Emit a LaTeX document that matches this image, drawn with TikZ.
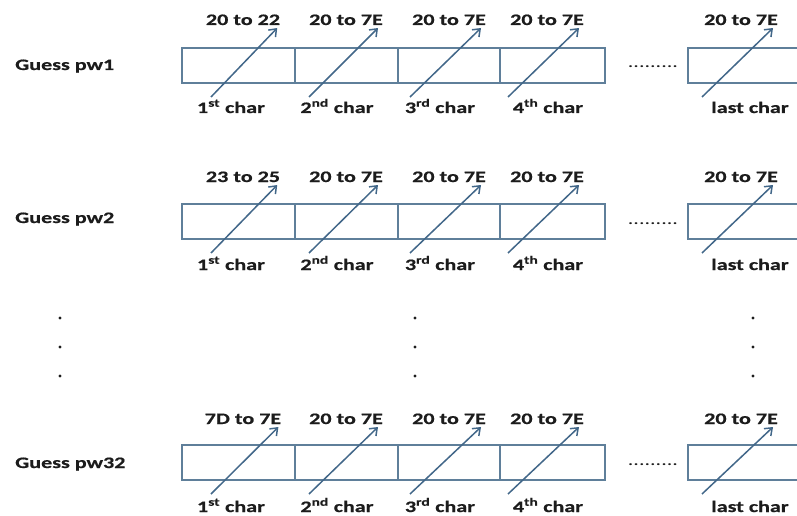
\documentclass[tikz,border=0pt]{standalone}
\usepackage{fontspec}
\setmainfont{Carlito}[FakeStretch=1.38, BoldFeatures={FakeBold=0.6}]
\usetikzlibrary{arrows.meta}
\definecolor{pwEdge}{HTML}{5F7F9A}
\definecolor{pwArrowCol}{HTML}{426789}
\definecolor{pwInk}{HTML}{1C1C1C}
\newcommand{\pwOrd}[2]{#1\textsuperscript{#2} char}

\begin{document}
\begin{tikzpicture}[x=1pt,y=-1pt,
  pwCell/.style={draw=pwEdge, line width=1.1pt, fill=white, minimum height=35pt, inner sep=0pt},
  pwText/.style={anchor=base, inner sep=0pt, font=\fontsize{16}{19}\selectfont\bfseries, text=pwInk},
  pwDots/.style={anchor=base, inner sep=0pt, font=\fontsize{16}{19}\selectfont, text=pwInk},
  pwArrow/.style={draw=pwArrowCol, line width=1.5pt, -{Straight Barb[length=6.5pt,width=10pt]}}]
\clip (0,0) rectangle (797,516);
% row 1
\node[pwText, anchor=base west] (g1) at (15,70) {Guess pw1};
\node[pwCell, minimum width=113pt] (c11) at (238.5,65.5) {};
\node[pwCell, minimum width=103pt] (c12) at (346.5,65.5) {};
\node[pwCell, minimum width=102pt] (c13) at (449,65.5) {};
\node[pwCell, minimum width=105pt] (c14) at (552.5,65.5) {};
\node[pwCell, minimum width=113pt] (c15) at (744.5,65.5) {};
\node[pwDots] (d1) at (653,68) {.........};
\node[pwText] (t11) at (243,25) {20 to 22};
\node[pwText] (t12) at (346,25) {20 to 7E};
\node[pwText] (t13) at (449,25) {20 to 7E};
\node[pwText] (t14) at (547,25) {20 to 7E};
\node[pwText] (t15) at (741,25) {20 to 7E};
\node[pwText] (b11) at (231,113) {\pwOrd{1}{st}};
\node[pwText] (b12) at (337,113) {\pwOrd{2}{nd}};
\node[pwText] (b13) at (440,113) {\pwOrd{3}{rd}};
\node[pwText] (b14) at (548,113) {\pwOrd{4}{th}};
\node[pwText] (b15) at (750,113) {last char};
\coordinate (a11) at (211,97);
\coordinate (a12) at (309,97);
\coordinate (a13) at (410,97);
\coordinate (a14) at (508,97);
\coordinate (a15) at (702,97);
\draw[pwArrow] (a11) -- ([shift={(-3,3)}]t11.base east);
\draw[pwArrow] (a12) -- ([shift={(-5,3)}]t12.base east);
\draw[pwArrow] (a13) -- ([shift={(-5,3)}]t13.base east);
\draw[pwArrow] (a14) -- ([shift={(-5,3)}]t14.base east);
\draw[pwArrow] (a15) -- ([shift={(-5,3)}]t15.base east);
% row 2
\node[pwText, anchor=base west] (g2) at (15,223) {Guess pw2};
\node[pwCell, minimum width=113pt] (c21) at (238.5,221.5) {};
\node[pwCell, minimum width=103pt] (c22) at (346.5,221.5) {};
\node[pwCell, minimum width=102pt] (c23) at (449,221.5) {};
\node[pwCell, minimum width=105pt] (c24) at (552.5,221.5) {};
\node[pwCell, minimum width=113pt] (c25) at (744.5,221.5) {};
\node[pwDots] (d2) at (653,224) {.........};
\node[pwText] (t21) at (243,182) {23 to 25};
\node[pwText] (t22) at (346,182) {20 to 7E};
\node[pwText] (t23) at (449,182) {20 to 7E};
\node[pwText] (t24) at (547,182) {20 to 7E};
\node[pwText] (t25) at (741,182) {20 to 7E};
\node[pwText] (b21) at (231,270) {\pwOrd{1}{st}};
\node[pwText] (b22) at (337,270) {\pwOrd{2}{nd}};
\node[pwText] (b23) at (440,270) {\pwOrd{3}{rd}};
\node[pwText] (b24) at (548,270) {\pwOrd{4}{th}};
\node[pwText] (b25) at (750,270) {last char};
\coordinate (a21) at (211,253);
\coordinate (a22) at (309,253);
\coordinate (a23) at (410,253);
\coordinate (a24) at (508,253);
\coordinate (a25) at (702,253);
\draw[pwArrow] (a21) -- ([shift={(-3,3)}]t21.base east);
\draw[pwArrow] (a22) -- ([shift={(-5,3)}]t22.base east);
\draw[pwArrow] (a23) -- ([shift={(-5,3)}]t23.base east);
\draw[pwArrow] (a24) -- ([shift={(-5,3)}]t24.base east);
\draw[pwArrow] (a25) -- ([shift={(-5,3)}]t25.base east);
% vertical dots
\fill[pwInk] (60,318) circle (1.7) (60,347) circle (1.7) (60,376) circle (1.7);
\fill[pwInk] (415,318) circle (1.7) (415,347) circle (1.7) (415,376) circle (1.7);
\fill[pwInk] (753,318) circle (1.7) (753,347) circle (1.7) (753,376) circle (1.7);
% row 3
\node[pwText, anchor=base west] (g3) at (15,468) {Guess pw32};
\node[pwCell, minimum width=113pt] (c31) at (238.5,462.5) {};
\node[pwCell, minimum width=103pt] (c32) at (346.5,462.5) {};
\node[pwCell, minimum width=102pt] (c33) at (449,462.5) {};
\node[pwCell, minimum width=105pt] (c34) at (552.5,462.5) {};
\node[pwCell, minimum width=113pt] (c35) at (744.5,462.5) {};
\node[pwDots] (d3) at (653,465) {.........};
\node[pwText] (t31) at (243,424) {7D to 7E};
\node[pwText] (t32) at (346,424) {20 to 7E};
\node[pwText] (t33) at (449,424) {20 to 7E};
\node[pwText] (t34) at (547,424) {20 to 7E};
\node[pwText] (t35) at (741,424) {20 to 7E};
\node[pwText] (b31) at (231,512) {\pwOrd{1}{st}};
\node[pwText] (b32) at (337,512) {\pwOrd{2}{nd}};
\node[pwText] (b33) at (440,512) {\pwOrd{3}{rd}};
\node[pwText] (b34) at (548,512) {\pwOrd{4}{th}};
\node[pwText] (b35) at (750,512) {last char};
\coordinate (a31) at (211,494);
\coordinate (a32) at (309,494);
\coordinate (a33) at (410,494);
\coordinate (a34) at (508,494);
\coordinate (a35) at (702,494);
\draw[pwArrow] (a31) -- ([shift={(-3,3)}]t31.base east);
\draw[pwArrow] (a32) -- ([shift={(-5,3)}]t32.base east);
\draw[pwArrow] (a33) -- ([shift={(-5,3)}]t33.base east);
\draw[pwArrow] (a34) -- ([shift={(-5,3)}]t34.base east);
\draw[pwArrow] (a35) -- ([shift={(-5,3)}]t35.base east);
\end{tikzpicture}
\end{document}
